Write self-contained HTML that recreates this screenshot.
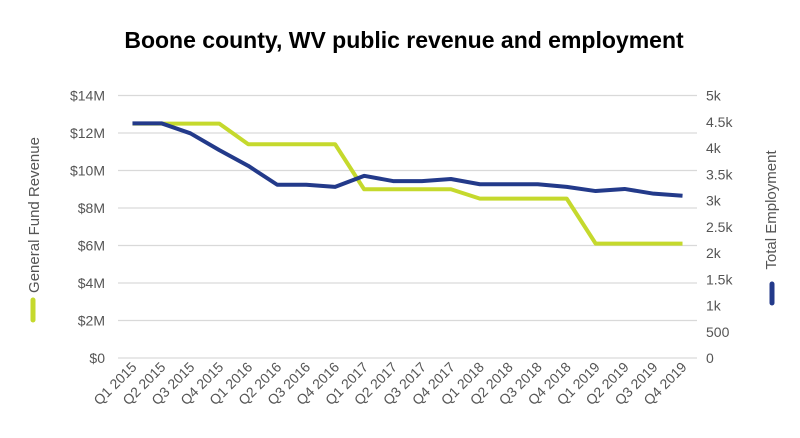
<!DOCTYPE html>
<html><head><meta charset="utf-8"><style>
body{margin:0;background:#fff;font-family:"Liberation Sans",Arial,sans-serif;}
</style></head><body>
<svg id="chart" width="800" height="433" xmlns="http://www.w3.org/2000/svg">
<text x="404" y="48" text-anchor="middle" font-size="23" font-weight="bold" fill="#000">Boone county, WV public revenue and employment</text>
<g id="grid"></g><g id="ticks"></g><g id="series"></g>
<text transform="translate(39,215) rotate(-90)" text-anchor="middle" font-size="15" fill="#555">General Fund Revenue</text>
<line x1="33" y1="300" x2="33" y2="320" stroke="#c5d92d" stroke-width="5" stroke-linecap="round"/>
<text transform="translate(776,210) rotate(-90)" text-anchor="middle" font-size="15" fill="#555">Total Employment</text>
<line x1="772" y1="284" x2="772" y2="303" stroke="#233a8a" stroke-width="5" stroke-linecap="round"/>
</svg>
<script>
const categories=["Q1 2015","Q2 2015","Q3 2015","Q4 2015","Q1 2016","Q2 2016","Q3 2016","Q4 2016","Q1 2017","Q2 2017","Q3 2017","Q4 2017","Q1 2018","Q2 2018","Q3 2018","Q4 2018","Q1 2019","Q2 2019","Q3 2019","Q4 2019"];
const revenue=[12.5,12.5,12.5,12.5,11.4,11.4,11.4,11.4,9.0,9.0,9.0,9.0,8.5,8.5,8.5,8.5,6.1,6.1,6.1,6.1];
const employment=[4.47,4.47,4.28,3.96,3.66,3.30,3.30,3.26,3.47,3.37,3.37,3.41,3.31,3.31,3.31,3.26,3.18,3.22,3.13,3.09];
const leftTicks=["$0","$2M","$4M","$6M","$8M","$10M","$12M","$14M"];
const rightTicks=["0","500","1k","1.5k","2k","2.5k","3k","3.5k","4k","4.5k","5k"];
const NS="http://www.w3.org/2000/svg";
const L=118,R=697,T=95.5,B=358;
const x=i=>L+(R-L)/categories.length*(i+0.5);
const yL=v=>B-(v/14)*(B-T);
const yR=v=>B-(v/5)*(B-T);
function mk(tag,attrs,parent){const e=document.createElementNS(NS,tag);for(const k in attrs)e.setAttribute(k,attrs[k]);document.getElementById(parent).appendChild(e);return e;}
leftTicks.forEach((t,i)=>{const y=yL(i*2);
const g=mk("line",{x1:L,x2:R,y1:y,y2:y,stroke:"#d9d9d9","stroke-width":1.2},"grid");


const tx=mk("text",{x:105,y:y+5,"text-anchor":"end","font-size":14,fill:"#555"},"ticks");tx.textContent=t;

});
rightTicks.forEach((t,i)=>{const y=yR(i*0.5);
const tx=mk("text",{x:706,y:y+5,"text-anchor":"start","font-size":14,fill:"#555"},"ticks");tx.textContent=t;

});
categories.forEach((c,i)=>{const xx=x(i)+5,yy=368;
const tx=mk("text",{x:xx,y:yy,"text-anchor":"end","font-size":14,fill:"#555",transform:`rotate(-45 ${xx} ${yy})`},"ticks");tx.textContent=c;

});
const p1=mk("polyline",{points:revenue.map((v,i)=>x(i)+","+yL(v)).join(" "),fill:"none",stroke:"#c5d92d","stroke-width":4,"stroke-linejoin":"round"},"series");


const p2=mk("polyline",{points:employment.map((v,i)=>x(i)+","+yR(v)).join(" "),fill:"none",stroke:"#233a8a","stroke-width":4,"stroke-linejoin":"round"},"series");


</script>
</body></html>
